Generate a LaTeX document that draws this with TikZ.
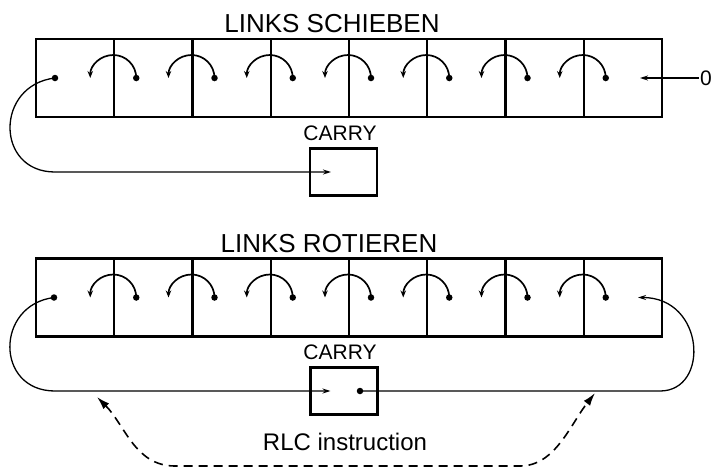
\documentclass[tikz,border=0pt]{standalone}
\usepackage{fontspec}
\setmainfont{Liberation Sans}
\usetikzlibrary{positioning,arrows.meta,calc}

\begin{document}
\begin{tikzpicture}[
  x=1pt, y=-1pt,
  cell/.style={draw, line width=2.2pt, minimum width=78.25pt, minimum height=78pt, inner sep=0pt, outer sep=0pt},
  cbox/.style={draw, line width=2.2pt, minimum width=67pt, minimum height=47pt, inner sep=0pt, outer sep=0pt},
  title/.style={font=\fontsize{26}{30}\selectfont, anchor=base},
  lbl/.style={font=\fontsize{21}{25}\selectfont, anchor=base},
  bitarr/.style={line width=1.7pt, -{Stealth[length=7pt,width=5.5pt]}},
  arr/.style={line width=1.3pt, -{Stealth[length=8pt,width=5pt]}},
  darr/.style={line width=1.6pt, dash pattern=on 9pt off 6pt, {Latex[length=13pt,width=8pt]}-{Latex[length=13pt,width=8pt]}},
  dot/.style={circle, fill, inner sep=0pt, minimum size=6.5pt},
  ]
  \useasboundingbox (0,0) rectangle (713,467);
  % registers: 8 cells each
  \foreach \i in {1,...,8} {
    \node[cell] (s\i) at ({36+78.25*(\i-0.5)},78) {};
    \node[cell] (r\i) at ({36+78.25*(\i-0.5)},297.5) {};
  }
  % bit moves one cell to the left
  \foreach \i [count=\j from 2] in {1,...,7} {
    \node[dot] (sd\j) at ($(s\j.west)+(22,0)$) {};
    \draw[bitarr] (sd\j.center) arc[start angle=0, end angle=-180, radius=23];
    \node[dot] (rd\j) at ($(r\j.west)+(22,0)$) {};
    \draw[bitarr] (rd\j.center) arc[start angle=0, end angle=-180, radius=23];
  }
  % top: shift left
  \node[title] (stitle) at (332,32) {LINKS SCHIEBEN};
  \node[cbox] (sc) at (343.5,172) {};
  \node[lbl] (sclbl) at (340,140) {CARRY};
  \node[dot] (sd1) at ($(s1.west)+(19,0)$) {};
  \coordinate (scin) at ($(sc.west)+(21,0)$);
  \draw[arr] (sd1.center) .. controls (-5,85) and (-5,172) .. (55,172) -- (scin);
  \node[lbl, anchor=west, inner sep=1pt] (zero) at (699,78) {0};
  \coordinate (sin) at ($(s8.east)+(-22,0)$);
  \draw[arr] (zero.west) -- (sin);
  % bottom: rotate left through carry
  \node[title] (rtitle) at (329,252) {LINKS ROTIEREN};
  \node[cbox] (rc) at (344,391) {};
  \node[lbl] (rclbl) at (340,359) {CARRY};
  \node[dot] (rd1) at ($(r1.west)+(18,0)$) {};
  \coordinate (rcin) at ($(rc.west)+(20,0)$);
  \draw[arr] (rd1.center) .. controls (-5,305) and (-5,391) .. (55,391) -- (rcin);
  \node[dot] (rcd) at ($(rc.center)+(16,0)$) {};
  \coordinate (rin) at ($(r8.east)+(-24,0)$);
  \draw[arr] (rcd.center) -- (660,391) .. controls (710,391) and (705,297.5) .. (rin);
  % instruction
  \node[lbl, font=\fontsize{24}{28}\selectfont] (rlc) at (345,450) {RLC instruction};
  \coordinate (dl) at (97,397);
  \coordinate (dr) at (595,393);
  \draw[darr] (dl) .. controls (125,425) and (135,466) .. (175,466) -- (520,466) .. controls (555,466) and (570,425) .. (dr);
\end{tikzpicture}
\end{document}
